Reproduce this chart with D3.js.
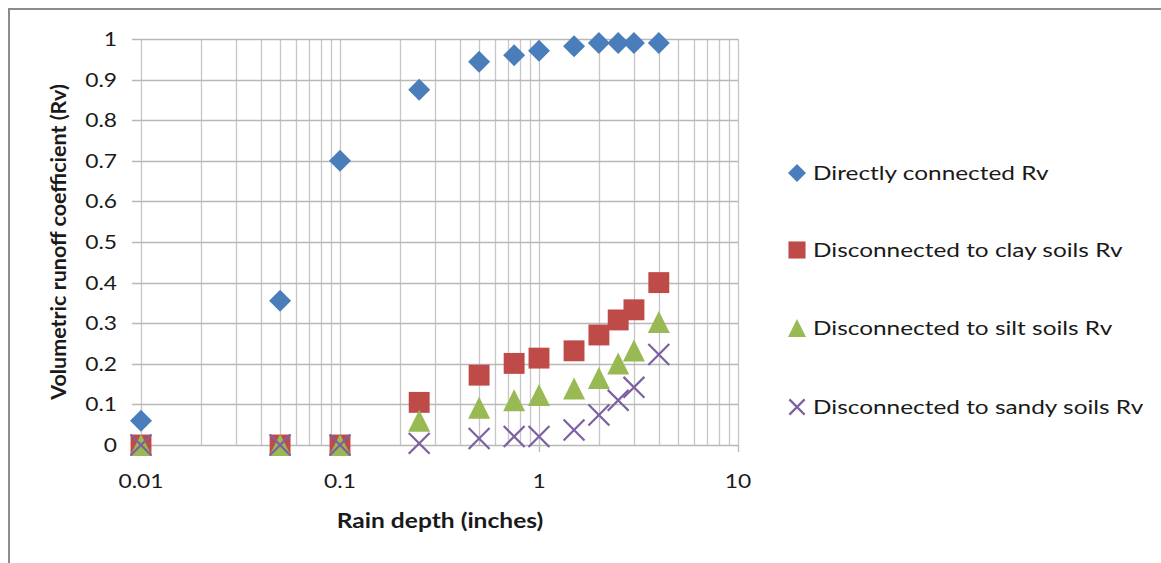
<!DOCTYPE html>
<html>
<head>
<meta charset="utf-8">
<script src="https://cdn.jsdelivr.net/npm/d3@7"></script>
<style>
    body { margin: 0; background: #fff; }
    svg text { font-family: Lato, "Open Sans", sans-serif; fill: #1a1a1a; }
    .tick-label { font-size: 19px; }
    .axis-title { font-weight: bold; }
    .legend-label { font-size: 20px; }
</style>
</head>
<body>
<svg id="chart" width="1161" height="563"></svg>
<script>
// Rain depth (inches)
const rainDepth = [0.01, 0.05, 0.1, 0.25, 0.5, 0.75, 1, 1.5, 2, 2.5, 3, 4];

// Rv for each surface
const directlyConnected = [0.06, 0.355, 0.70, 0.875, 0.944, 0.96, 0.971, 0.982, 0.99, 0.99, 0.99, 0.99];
const clayRv  = [0, 0, 0, 0.105, 0.172, 0.201, 0.214, 0.232, 0.271, 0.308, 0.333, 0.40];
const siltRv  = [0, 0, 0, 0.06, 0.092, 0.11, 0.123, 0.139, 0.165, 0.201, 0.233, 0.303];
const sandyRv = [0, 0, 0, 0.004, 0.016, 0.021, 0.021, 0.037, 0.074, 0.11, 0.142, 0.223];

const seriesNames = [
    "Directly connected Rv",
    "Disconnected to clay soils Rv",
    "Disconnected to silt soils Rv",
    "Disconnected to sandy soils Rv"
];
const xTicks = [0.01, 0.1, 1, 10];
const yTicks = d3.range(0, 11).map(i => i / 10);

const series = [
    { name: seriesNames[0], values: directlyConnected, shape: "diamond", color: "#4a7ebb" },
    { name: seriesNames[1], values: clayRv, shape: "square", color: "#be4b48" },
    { name: seriesNames[2], values: siltRv, shape: "triangle", color: "#98b954" },
    { name: seriesNames[3], values: sandyRv, shape: "cross", color: "#7d60a0" }
];

const svg = d3.select("#chart");
const margin = { left: 141, right: 423, top: 39, bottom: 118 };
const width = 1161, height = 563;
// the picture's text is a little wider than it is tall
const stretch = 1.2;

const xScale = d3.scaleLog().domain([0.01, 10]).range([margin.left, width - margin.right]);
const yScale = d3.scaleLinear().domain([0, 1]).range([height - margin.bottom, margin.top]);

// Chart frame (only top and left edges show in the picture)
svg.append("path")
    .attr("d", `M9,${height} V9 H${width}`)
    .attr("fill", "none")
    .attr("stroke", "#8c8c8c")
    .attr("stroke-width", 2);

// Vertical gridlines: every 1..9 of each decade
const xGrid = [];
for (let d = 0.01; d < 10; d *= 10) {
    for (let m = 1; m < 10; m++) xGrid.push(+(d * m).toPrecision(3));
}
xGrid.push(10);

const grid = svg.append("g");
grid.selectAll(".vgrid")
    .data(xGrid)
    .join("line")
    .attr("x1", d => Math.round(xScale(d)) + 0.5)
    .attr("x2", d => Math.round(xScale(d)) + 0.5)
    .attr("y1", yScale(1))
    .attr("y2", yScale(0))
    .attr("stroke", "#c6c6c6")
    .attr("stroke-width", 1.3);

grid.selectAll(".hgrid")
    .data(yTicks)
    .join("line")
    .attr("x1", margin.left - 9)
    .attr("x2", xScale(10))
    .attr("y1", d => Math.round(yScale(d)) + 0.5)
    .attr("y2", d => Math.round(yScale(d)) + 0.5)
    .attr("stroke", "#b8b8b8")
    .attr("stroke-width", 1.3);

// X tick marks on major decades
grid.selectAll(".xtick")
    .data(xTicks)
    .join("line")
    .attr("x1", d => Math.round(xScale(d)) + 0.5)
    .attr("x2", d => Math.round(xScale(d)) + 0.5)
    .attr("y1", yScale(0))
    .attr("y2", yScale(0) + 7)
    .attr("stroke", "#b8b8b8")
    .attr("stroke-width", 1.3);

// Tick labels
svg.append("g").selectAll("text")
    .data(xTicks)
    .join("text")
    .attr("class", "tick-label")
    .attr("transform", d => `translate(${xScale(d)},${yScale(0) + 43}) scale(${stretch},1)`)
    .attr("text-anchor", "middle")
    .text(d => d);

svg.append("g").selectAll("text")
    .data(yTicks)
    .join("text")
    .attr("class", "tick-label")
    .attr("transform", d => `translate(${margin.left - 24},${yScale(d) + 7}) scale(${stretch},1)`)
    .attr("text-anchor", "end")
    .text(d => d);

// Axis titles
svg.append("text")
    .attr("class", "axis-title")
    .style("font-size", "21px")
    .attr("transform", `translate(440,528) scale(1.17,1)`)
    .attr("text-anchor", "middle")
    .text("Rain depth (inches)");

svg.append("text")
    .attr("class", "axis-title")
    .style("font-size", "21.5px")
    .attr("transform", `translate(66,242) rotate(-90)`)
    .attr("text-anchor", "middle")
    .text("Volumetric runoff coefficient (Rv)");

// Marker drawing
const drawMarker = (sel, shape, color, size) => {
    const h = size / 2;
    if (shape === "diamond") {
        sel.append("path").attr("d", `M0,${-h}L${h},0L0,${h}L${-h},0Z`).attr("fill", color);
    } else if (shape === "square") {
        const s = h * 0.95;
        sel.append("rect").attr("x", -s).attr("y", -s).attr("width", 2 * s).attr("height", 2 * s).attr("fill", color);
    } else if (shape === "triangle") {
        sel.append("path").attr("d", `M0,${-h}L${h},${h}L${-h},${h}Z`).attr("fill", color);
    } else {
        const c = h * 0.95;
        sel.append("path")
            .attr("d", `M${-c},${-c}L${c},${c}M${-c},${c}L${c},${-c}`)
            .attr("stroke", color)
            .attr("stroke-width", 2.2)
            .attr("fill", "none");
    }
};

const points = svg.append("g");
series.forEach(s => {
    const g = points.append("g");
    s.values.forEach((v, i) => {
        const m = g.append("g")
            .attr("transform", `translate(${xScale(rainDepth[i])},${yScale(v)})`);
        drawMarker(m, s.shape, s.color, 22);
    });
});

// Legend
const legendY = [173, 250, 328, 407];
const legend = svg.append("g");
series.forEach((s, i) => {
    const row = legend.append("g").attr("transform", `translate(797,${legendY[i]})`);
    drawMarker(row.append("g"), s.shape, s.color, s.shape === "cross" ? 16 : 18);
    row.append("text")
        .attr("class", "legend-label")
        .attr("transform", `translate(16,7) scale(1.22,1)`)
        .text(s.name);
});
</script>
</body>
</html>
